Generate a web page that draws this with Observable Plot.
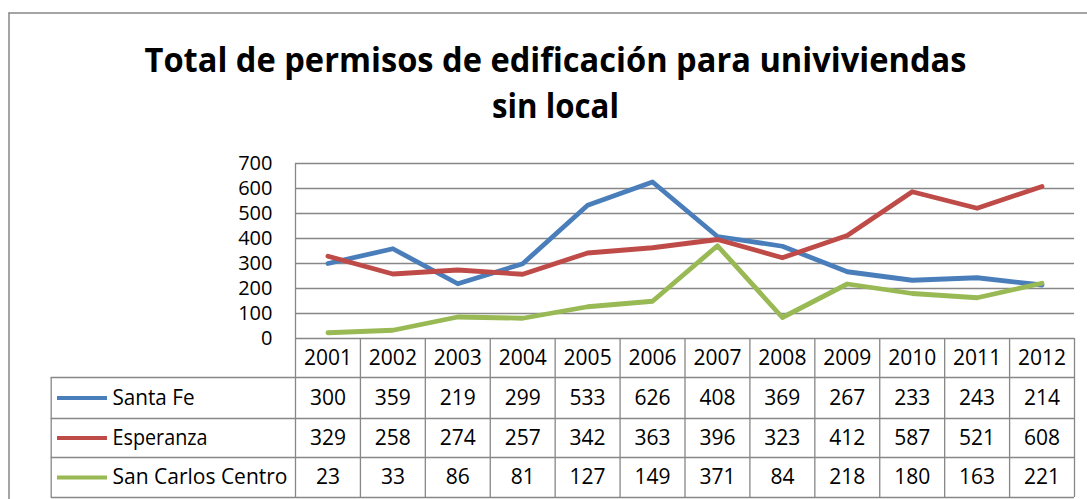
<!DOCTYPE html>
<html>
<head>
<meta charset="utf-8">
<script src="https://cdn.jsdelivr.net/npm/d3@7"></script>
<script src="https://cdn.jsdelivr.net/npm/@observablehq/plot@0.6"></script>
<style>
  html, body { margin: 0; padding: 0; background: #fff; }
</style>
</head>
<body>
<div id="chart"></div>
<script>
// ---- data ----
const years = [2001, 2002, 2003, 2004, 2005, 2006, 2007, 2008, 2009, 2010, 2011, 2012];
const seriesNames = ["Santa Fe", "Esperanza", "San Carlos Centro"];
const santaFe   = [300, 359, 219, 299, 533, 626, 408, 369, 267, 233, 243, 214];
const esperanza = [329, 258, 274, 257, 342, 363, 396, 323, 412, 587, 521, 608];
const sanCarlos = [23, 33, 86, 81, 127, 149, 371, 84, 218, 180, 163, 221];
const yTicks = [0, 100, 200, 300, 400, 500, 600, 700];
const titleLines = ["Total de permisos de edificación para univiviendas", "sin local"];
const seriesColors = ["#4A7EBB", "#BE4B48", "#98B954"];

// ---- layout (pixels) ----
const W = 1087, H = 499;
const plotLeft = 295, plotRight = 1074, plotTop = 163, axisY = 338;
const rowBottoms = [377, 418, 457, 497];
const legendLeft = 50.7;
const grey = "#878787";
const font = "Open Sans";

const xDomain = [years[0] - 0.5, years[years.length - 1] + 0.5];
const yDomain = [0, 700];
// helpers mirroring Plot's scales to convert layout pixels to data values
const xPx = d3.scaleLinear(xDomain, [plotLeft, plotRight]);
const yPx = d3.scaleLinear(yDomain, [axisY, plotTop]);

const allValues = [santaFe, esperanza, sanCarlos];
const data = [];
seriesNames.forEach((s, i) => years.forEach((yr, j) => data.push({series: s, si: i, year: yr, value: allValues[i][j]})));

const rowEdges = [axisY, ...rowBottoms];
const rowCenter = i => yPx.invert((rowEdges[i] + rowEdges[i + 1]) / 2); // i=0 header
const tableBottom = yPx.invert(rowBottoms[rowBottoms.length - 1]);
const colBorders = years.map(y => y + 0.5);

const plot = Plot.plot({
  width: W,
  height: H,
  marginLeft: plotLeft,
  marginRight: W - plotRight,
  marginTop: plotTop,
  marginBottom: H - axisY,
  style: {background: "#fff", fontFamily: font},
  x: {type: "linear", domain: xDomain, axis: null},
  y: {type: "linear", domain: yDomain, axis: null},
  color: {domain: seriesNames, range: seriesColors},
  marks: [
    // outer chart border (left & top)
    Plot.ruleX([xPx.invert(8.5)], {y1: yPx.invert(12.5), y2: yPx.invert(H + 5), stroke: grey, strokeWidth: 1.5}),
    Plot.ruleY([yPx.invert(12.5)], {x1: xPx.invert(8.5), x2: xPx.invert(W + 5), stroke: grey, strokeWidth: 1.5}),
    // gridlines
    Plot.ruleY(yTicks, {x1: xDomain[0], x2: xDomain[1], stroke: grey, strokeWidth: 1.3}),
    // value axis line
    Plot.ruleX([xDomain[0]], {y1: yDomain[1], y2: tableBottom, stroke: grey, strokeWidth: 1.3}),
    // table column borders
    Plot.ruleX(colBorders, {y1: 0, y2: tableBottom, stroke: grey, strokeWidth: 1.3}),
    // table row borders
    Plot.ruleY(rowBottoms.map(p => yPx.invert(p)), {x1: xPx.invert(legendLeft), x2: xDomain[1], stroke: grey, strokeWidth: 1.3}),
    Plot.ruleX([xPx.invert(legendLeft)], {y1: yPx.invert(rowBottoms[0]), y2: tableBottom, stroke: grey, strokeWidth: 1.3}),
    // series lines
    Plot.line(data, {x: "year", y: "value", z: "series", stroke: "series", strokeWidth: 4.8, strokeLinejoin: "round", strokeLinecap: "round"}),
    // y tick labels
    Plot.text(yTicks, {x: xDomain[0], y: d => d, dx: -23, textAnchor: "end", text: d => String(d), fontSize: 20, fill: "#000"}),
    // header years
    Plot.text(years, {x: d => d, y: () => rowCenter(0), text: d => String(d), fontSize: 21, fill: "#000"}),
    // table values
    Plot.text(data, {x: "year", y: d => rowCenter(d.si + 1), text: d => String(d.value), fontSize: 21, fill: "#000"}),
    // legend swatches
    Plot.ruleY(seriesNames, {y: (d, i) => rowCenter(i + 1), x1: xPx.invert(57), x2: xPx.invert(107), stroke: d => d, strokeWidth: 4}),
    // legend labels
    Plot.text(seriesNames, {x: xPx.invert(112), y: (d, i) => rowCenter(i + 1), text: d => d, textAnchor: "start", fontSize: 21, fill: "#000"}),
    // title
    Plot.text(titleLines, {x: xPx.invert(555), y: (d, i) => yPx.invert([60.5, 107][i]), text: d => d, fontSize: 34, fontWeight: "bold", fill: "#000"})
  ]
});

// fit title and legend label widths to the reference
const fitWidths = {[titleLines[0]]: 822, [titleLines[1]]: 127, "Santa Fe": 82, "Esperanza": 95, "San Carlos Centro": 175};
plot.querySelectorAll("text").forEach(t => {
  const w = fitWidths[t.textContent];
  if (w) { t.setAttribute("textLength", w); t.setAttribute("lengthAdjust", "spacingAndGlyphs"); }
});

document.getElementById("chart").appendChild(plot);
</script>
</body>
</html>
